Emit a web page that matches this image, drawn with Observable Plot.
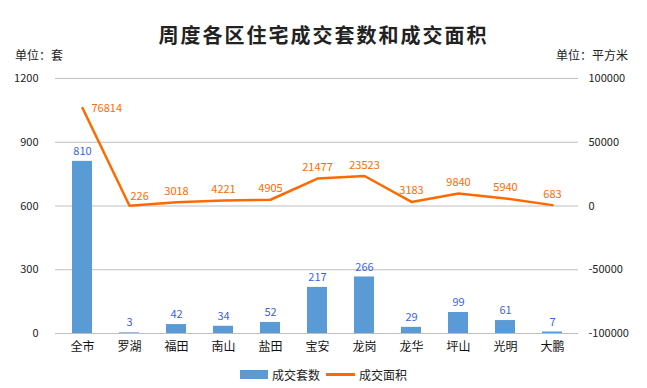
<!DOCTYPE html>
<html>
<head>
<meta charset="utf-8">
<script src="https://cdn.jsdelivr.net/npm/d3@7"></script>
<script src="https://cdn.jsdelivr.net/npm/@observablehq/plot@0.6"></script>
<style>
  html, body { margin: 0; padding: 0; background: #fff; }
  #wrap { position: relative; width: 647px; height: 388px; font-family: "Noto Sans CJK SC", sans-serif; color: #222; }
  #title { position: absolute; left: 0; width: 647px; top: 20px; text-align: center; font-size: 20px; font-weight: bold; letter-spacing: 2px; color: #222; }
  .unit { position: absolute; top: 46px; font-size: 12px; color: #222; }
  #legend { position: absolute; top: 366px; left: 0; width: 647px; display: flex; justify-content: center; align-items: center; font-size: 12px; color: #222; }
  .sw { display: inline-block; margin-right: 4px; }
</style>
</head>
<body>
<div id="wrap">
  <div id="title">周度各区住宅成交套数和成交面积</div>
  <div class="unit" style="left:15px">单位：套</div>
  <div class="unit" style="right:19px">单位：平方米</div>
  <div id="chart"></div>
  <div id="legend">
    <span class="sw" style="width:28px;height:9px;background:#5b9bd5"></span><span style="margin-right:6px">成交套数</span>
    <span class="sw" style="width:29px;height:2.5px;background:#ff6a00"></span><span>成交面积</span>
  </div>
</div>
<script>
const districts = ["全市", "罗湖", "福田", "南山", "盐田", "宝安", "龙岗", "龙华", "坪山", "光明", "大鹏"];
const units = [810, 3, 42, 34, 52, 217, 266, 29, 99, 61, 7];
const areas = [76814, 226, 3018, 4221, 4905, 21477, 23523, 3183, 9840, 5940, 683];
const leftTicks = [0, 300, 600, 900, 1200];
const rightDomain = [-100000, 100000];
const leftDomain = [0, 1200];

const toLeft = v => (v - rightDomain[0]) / (rightDomain[1] - rightDomain[0]) * (leftDomain[1] - leftDomain[0]) + leftDomain[0];
const toRight = v => (v - leftDomain[0]) / (leftDomain[1] - leftDomain[0]) * (rightDomain[1] - rightDomain[0]) + rightDomain[0];

const data = districts.map((d, i) => ({district: d, units: units[i], area: areas[i], areaY: toLeft(areas[i]), i}));

const chart = Plot.plot({
  width: 647,
  height: 388,
  marginTop: 78,
  marginBottom: 55,
  marginLeft: 55,
  marginRight: 69,
  style: {fontFamily: "'Noto Sans CJK SC', sans-serif", fontSize: "11px", color: "#222", background: "transparent"},
  x: {domain: districts, paddingInner: 0.58, paddingOuter: 0.29, label: null},
  y: {domain: leftDomain, label: null},
  marks: [
    Plot.gridY(leftTicks, {stroke: "#bfbfbf", strokeOpacity: 1, strokeWidth: 1}),
    Plot.axisY({ticks: leftTicks, tickSize: 0, tickPadding: 17, label: null, fontSize: 11, tickFormat: d => String(d)}),
    Plot.axisY({anchor: "right", ticks: leftTicks, tickSize: 0, tickPadding: 10, label: null, fontSize: 11, tickFormat: d => String(Math.round(toRight(d)))}),
    Plot.axisX({tickSize: 0, tickPadding: 9, label: null, fontSize: 12, fill: "#111"}),
    Plot.barY(data, {x: "district", y: "units", fill: "#5b9bd5"}),
    Plot.text(data, {x: "district", y: "units", text: d => String(d.units), dy: -10, fill: "#3a64e0", fontSize: 11}),
    Plot.line(data, {x: "district", y: "areaY", stroke: "#ff6a00", strokeWidth: 2.5, curve: "linear"}),
    Plot.text(data.filter(d => d.i > 1), {x: "district", y: "areaY", text: d => String(d.area), dy: -11, fill: "#ff6a00", fontSize: 11}),
    Plot.text(data.filter(d => d.i === 1), {x: "district", y: "areaY", text: d => String(d.area), dx: 1, dy: -9, textAnchor: "start", fill: "#ff6a00", fontSize: 11}),
    Plot.text(data.filter(d => d.i === 0), {x: "district", y: "areaY", text: d => String(d.area), dx: 9, dy: 0, textAnchor: "start", fill: "#ff6a00", fontSize: 11})
  ]
});
chart.style.position = "absolute";
chart.style.left = "0";
chart.style.top = "0";
document.getElementById("chart").appendChild(chart);
</script>
</body>
</html>
